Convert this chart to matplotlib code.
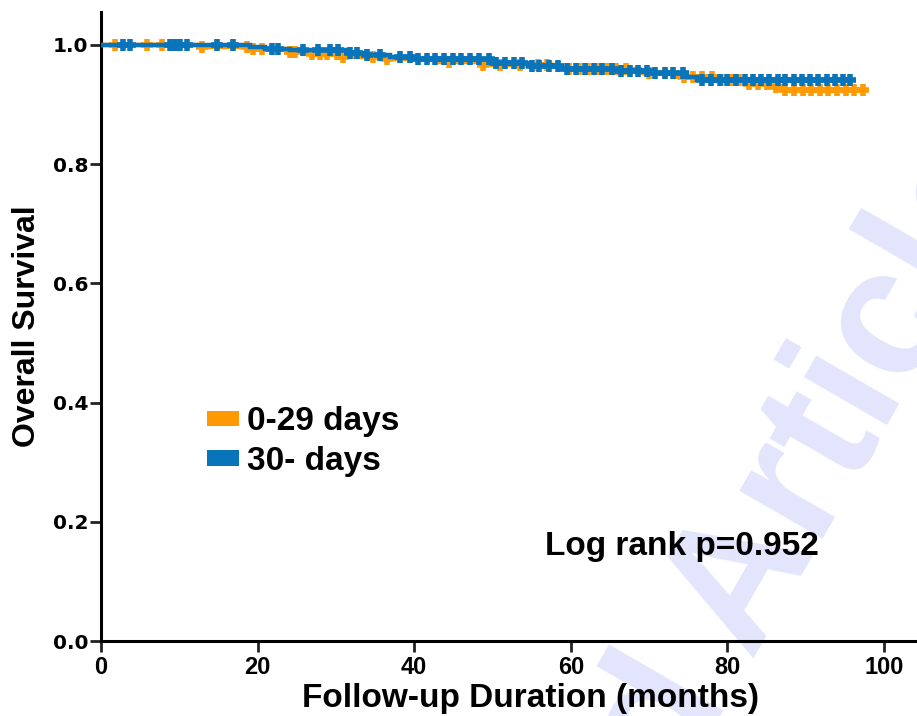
import numpy as np
import matplotlib.pyplot as plt
from matplotlib.patches import Patch

# ===== DATA =====
orange_label = "0-29 days"
orange_event_t = [12.6, 19.0, 23.8, 26.9, 30.5, 36.5, 43.3, 48.7, 58.6, 68.8, 73.3, 78.7, 82.5, 85.4, 87.1]
orange_event_s = [0.997, 0.993, 0.988, 0.984, 0.980, 0.976, 0.972, 0.966, 0.960, 0.953, 0.946, 0.941, 0.934, 0.930, 0.925]
orange_end = 97.3
orange_censor = [1.8, 5.9, 7.8, 12.9, 18.6, 19.4, 20.6, 24.1, 24.8, 26.9, 28.0, 28.9, 30.1, 30.9, 34.7,
                 36.5, 44.5, 48.8, 51.0, 53.5, 55.8, 57.0, 59.8, 61.0, 62.2, 63.4, 64.6, 65.8, 67.0,
                 70.0, 72.0, 74.5, 75.6, 76.8, 78.0, 79.2, 80.4, 81.5, 82.7, 83.9, 85.0, 86.2, 87.4,
                 88.5, 89.6, 90.7, 91.8, 92.9, 94.0, 95.1, 96.2, 97.3]

blue_label = "30- days"
blue_event_t = [19.0, 20.9, 24.1, 31.4, 34.0, 36.9, 39.8, 49.7, 54.8, 58.6, 66.3, 70.8, 74.8, 76.1]
blue_event_s = [0.997, 0.994, 0.991, 0.987, 0.983, 0.979, 0.976, 0.970, 0.964, 0.959, 0.956, 0.953, 0.946, 0.941]
blue_end = 95.7
blue_censor = [2.8, 3.7, 8.8, 9.5, 10.1, 11.0, 14.8, 16.9, 21.8, 22.6, 25.8, 27.7, 29.2, 30.3, 31.8,
               32.7, 34.0, 35.6, 38.2, 39.5, 40.5, 41.6, 42.7, 43.8, 45.0, 46.0, 47.1, 48.3, 49.5,
               50.5, 51.6, 52.7, 53.8, 55.0, 56.0, 57.2, 58.4, 59.5, 60.6, 61.8, 63.0, 64.0, 65.2,
               66.4, 67.5, 68.6, 69.7, 70.8, 72.0, 73.1, 74.3, 76.8, 77.9, 79.0, 80.0, 81.1, 82.2,
               83.2, 84.3, 85.3, 86.4, 87.4, 88.5, 89.5, 90.6, 91.6, 92.7, 93.7, 94.7, 95.7]

p_text = "Log rank p=0.952"
x_ticks = [0, 20, 40, 60, 80, 100]
y_ticks = [0.0, 0.2, 0.4, 0.6, 0.8, 1.0]

ORANGE = "#FF9A05"
BLUE = "#0A74BA"
FONT = "Liberation Sans"

plt.rcParams["font.family"] = [FONT, "DejaVu Sans"]
plt.rcParams["font.weight"] = "bold"


def km_curve(ev_t, ev_s, end):
    t = np.concatenate([[0.0], ev_t, [end]])
    s = np.concatenate([[1.0], ev_s, [ev_s[-1]]])
    return t, s


def censor_points(ev_t, ev_s, cens):
    t = np.asarray(ev_t)
    s = np.concatenate([[1.0], ev_s])
    idx = np.searchsorted(t, cens, side="right")
    return np.asarray(cens), s[idx]


fig = plt.figure(figsize=(9.17, 7.16), dpi=100)
ax = fig.add_axes([0.110, 0.1047, 0.890, 0.8783])
ax.patch.set_alpha(0)

# ===== CURVES =====
for ev_t, ev_s, end, cens, col, z in [
    (orange_event_t, orange_event_s, orange_end, orange_censor, ORANGE, 3),
    (blue_event_t, blue_event_s, blue_end, blue_censor, BLUE, 4),
]:
    t, s = km_curve(ev_t, ev_s, end)
    ax.step(t, s, where="post", color=col, lw=3.2, zorder=z, solid_joinstyle="miter")
    ct, cs = censor_points(ev_t, ev_s, cens)
    ax.plot(ct, cs, ls="none", marker="+", ms=9, mew=4, color=col, zorder=z)

# ===== AXES =====
ax.set_xlim(0, 104.2)
ax.set_ylim(0, 1.055)
ax.set_xticks(x_ticks)
ax.set_yticks(y_ticks)
ax.set_yticklabels([f"{v:.1f}" for v in y_ticks], family=["DejaVu Sans"], fontsize=14.5, fontweight="bold")
ax.set_xticklabels([str(v) for v in x_ticks], fontsize=17, fontweight="bold")
for side in ["top", "right"]:
    ax.spines[side].set_visible(False)
for side in ["left", "bottom"]:
    ax.spines[side].set_linewidth(2.2)
ax.tick_params(axis="both", direction="out", width=2.0, color="#222222")
ax.tick_params(axis="y", length=8, pad=1)
ax.tick_params(axis="x", length=8, pad=3)

ax.set_xlabel("Follow-up Duration (months)", fontsize=24, fontweight="bold")
ax.xaxis.set_label_coords(0.526, -0.066)
ax.set_ylabel("Overall Survival", fontsize=23, fontweight="bold", labelpad=8)

# ===== LEGEND / ANNOTATION =====
handles = [Patch(facecolor=ORANGE, edgecolor="none"), Patch(facecolor=BLUE, edgecolor="none")]
ax.legend(handles, [orange_label, blue_label], loc="upper left", bbox_to_anchor=(0.130, 0.373),
          frameon=False, handlelength=0.95, handleheight=0.35, handletextpad=0.25,
          labelspacing=0.26, borderpad=0, borderaxespad=0, prop={"weight": "bold", "size": 24})
ax.text(56.7, 0.159, p_text, fontsize=24, fontweight="bold", va="center", ha="left")

# faint watermark of the source page, behind everything
fig.text(0.695, -0.07, "Accepted Article", fontsize=130, fontweight="bold", color="#E3E5FC",
         rotation=60, rotation_mode="anchor", ha="center", va="center", zorder=-1)

fig.savefig("out.png", dpi=100)
